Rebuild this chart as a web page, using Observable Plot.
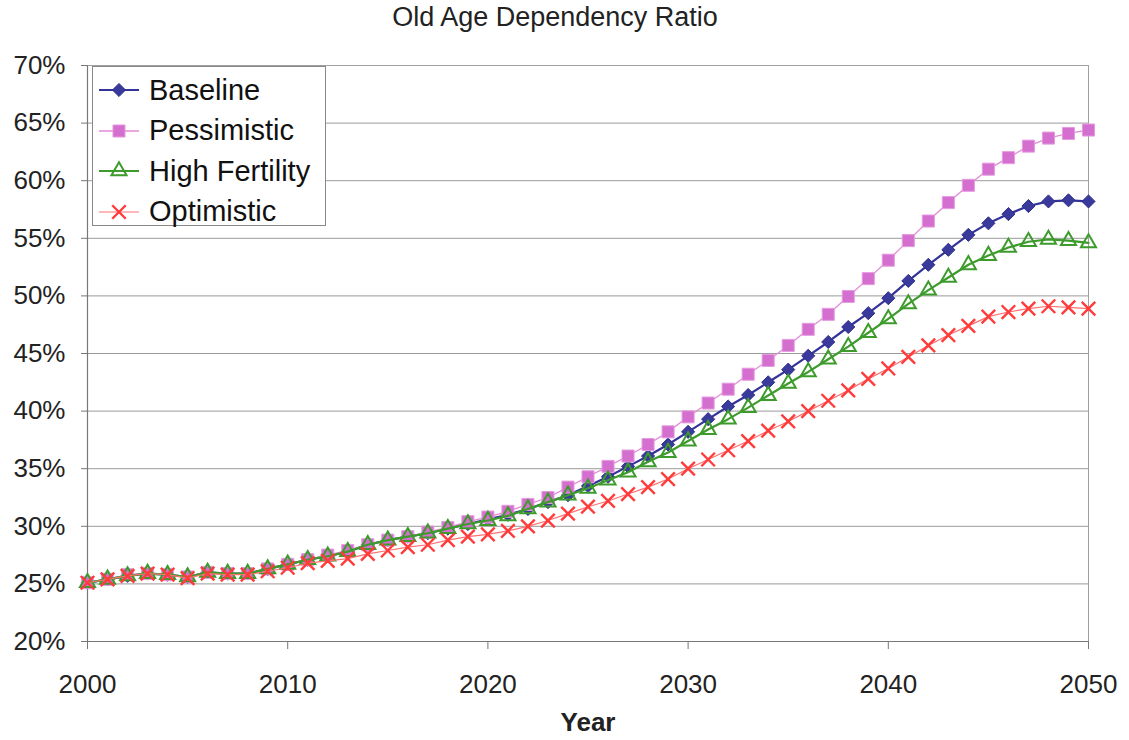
<!DOCTYPE html>
<html>
<head>
<meta charset="utf-8">
<script src="https://cdn.jsdelivr.net/npm/d3@7"></script>
<script src="https://cdn.jsdelivr.net/npm/@observablehq/plot@0.6"></script>
<style>
  html, body { margin: 0; padding: 0; background: #fff; }
  body { width: 1129px; height: 740px; position: relative; overflow: hidden; font-family: Arial, "Liberation Sans", sans-serif; }
  #title { position: absolute; top: 2px; left: 0; width: 1110px; text-align: center; font-size: 27px; color: #222; z-index: 2; }
  #chart { position: absolute; top: 0; left: 0; z-index: 1; }
  #legend { position: absolute; left: 92px; top: 66px; width: 234px; height: 160px; border: 1.5px solid #888; background: #fff; box-sizing: border-box; z-index: 2; }
  .row { position: absolute; left: 0; height: 40px; display: flex; align-items: center; }
  .row span { font-size: 29px; color: #111; margin-left: 6px; }
</style>
</head>
<body>
<div id="title">Old Age Dependency Ratio</div>
<div id="chart"></div>
<div id="legend"></div>
<script>
const years = [2000,2001,2002,2003,2004,2005,2006,2007,2008,2009,2010,2011,2012,2013,2014,2015,2016,2017,2018,2019,2020,2021,2022,2023,2024,2025,2026,2027,2028,2029,2030,2031,2032,2033,2034,2035,2036,2037,2038,2039,2040,2041,2042,2043,2044,2045,2046,2047,2048,2049,2050];

const baseline = [25.1,25.4,25.7,25.9,25.8,25.6,26.0,25.9,25.9,26.3,26.7,27.1,27.4,27.8,28.4,28.8,29.1,29.4,29.8,30.2,30.6,31.0,31.5,32.1,32.7,33.5,34.3,35.2,36.1,37.1,38.2,39.3,40.4,41.4,42.5,43.6,44.8,46.0,47.3,48.5,49.8,51.3,52.7,54.0,55.3,56.3,57.1,57.8,58.2,58.3,58.2];

const pessimistic = [25.1,25.4,25.8,25.9,25.8,25.6,26.0,25.9,25.9,26.3,26.7,27.1,27.5,27.9,28.4,28.8,29.1,29.5,29.9,30.4,30.8,31.3,31.9,32.5,33.4,34.3,35.2,36.1,37.1,38.2,39.5,40.7,41.9,43.2,44.4,45.7,47.1,48.4,49.95,51.5,53.1,54.8,56.5,58.1,59.6,61.0,62.0,63.0,63.7,64.1,64.4];

const highFertility = [25.1,25.4,25.7,25.9,25.8,25.6,26.0,25.9,25.9,26.3,26.7,27.1,27.4,27.8,28.4,28.8,29.1,29.4,29.8,30.2,30.5,30.9,31.5,32.1,32.7,33.3,34.0,34.7,35.6,36.4,37.4,38.4,39.3,40.3,41.35,42.4,43.4,44.5,45.6,46.8,48.0,49.3,50.5,51.6,52.7,53.5,54.2,54.7,54.9,54.8,54.6];

const optimistic = [25.1,25.4,25.7,25.9,25.8,25.5,25.9,25.8,25.8,26.1,26.4,26.8,27.0,27.2,27.6,27.9,28.2,28.4,28.8,29.1,29.3,29.6,30.0,30.5,31.1,31.7,32.2,32.8,33.4,34.1,35.0,35.8,36.6,37.4,38.3,39.1,40.0,40.9,41.8,42.8,43.7,44.7,45.7,46.6,47.4,48.2,48.6,48.9,49.1,49.0,48.9];

const seriesNames = ["Baseline", "Pessimistic", "High Fertility", "Optimistic"];
const yTicks = [20,25,30,35,40,45,50,55,60,65,70];
const xTicks = [2000,2010,2020,2030,2040,2050];

const seriesValues = [baseline, pessimistic, highFertility, optimistic];
const styles = {
  "Baseline":       {line: "#333399", lw: 2.2, symbol: "diamond2", fill: "#3a3a9c", stroke: "#2e2e8a", sw: 1, r: 5.9},
  "Pessimistic":    {line: "#e48ad6", lw: 1.3, symbol: "square", fill: "#d56fcf", stroke: "#e59be0", sw: 1, r: 6.8},
  "High Fertility": {line: "#3d9b2c", lw: 2.2, symbol: "triangle", fill: "none", stroke: "#3d9b2c", sw: 2, r: 5.6},
  "Optimistic":     {line: "#ff7070", lw: 1.2, symbol: "times", fill: "none", stroke: "#ff3b3b", sw: 2.4, r: 6.2}
};

const data = [];
seriesNames.forEach((name, i) => {
  years.forEach((yr, j) => data.push({series: name, year: yr, value: seriesValues[i][j]}));
});

const marks = [
  Plot.ruleY(yTicks, {stroke: "#9a9a9a", strokeWidth: 1}),
  Plot.frame({stroke: "#a0a0a0", strokeWidth: 1}),
  Plot.ruleX([2000], {stroke: "#777", strokeWidth: 1.2}),
  Plot.ruleY([20], {stroke: "#777", strokeWidth: 1.2}),
  Plot.axisY({ticks: yTicks, tickFormat: d => d + "%", tickSize: 6, tickPadding: 16, fontSize: 26, stroke: "#777", fill: "#222", label: null}),
  Plot.axisX({ticks: xTicks, tickFormat: d => String(d), tickSize: 8, tickPadding: 25, fontSize: 26, stroke: "#777", fill: "#222", label: null}),
  Plot.text(["Year"], {frameAnchor: "bottom", dy: 89, fontSize: 26, fontWeight: "bold", fill: "#222"})
];

seriesNames.forEach(name => {
  const s = styles[name];
  const d = data.filter(e => e.series === name);
  marks.push(Plot.line(d, {x: "year", y: "value", stroke: s.line, strokeWidth: s.lw}));
  marks.push(Plot.dot(d, {x: "year", y: "value", symbol: () => s.symbol, fill: s.fill, stroke: s.stroke, strokeWidth: s.sw, r: s.r}));
});

const chart = Plot.plot({
  width: 1129,
  height: 740,
  marginLeft: 87,
  marginRight: 41,
  marginTop: 65,
  marginBottom: 99,
  style: {fontFamily: "Arial, 'Liberation Sans', sans-serif", background: "transparent", overflow: "visible"},
  x: {domain: [2000, 2050], label: null},
  y: {domain: [20, 70], label: null},
  symbol: {type: "identity"},
  marks
});
document.getElementById("chart").appendChild(chart);

// Legend (HTML overlay with small SVG samples drawn through d3 symbols)
const legend = document.getElementById("legend");
const symMap = {diamond2: d3.symbolDiamond2, square: d3.symbolSquare, triangle: d3.symbolTriangle, times: d3.symbolTimes};
seriesNames.forEach((name, i) => {
  const s = styles[name];
  const row = document.createElement("div");
  row.className = "row";
  row.style.top = (3 + i * 40.5) + "px";
  const svg = d3.create("svg").attr("width", 50).attr("height", 40);
  svg.append("line").attr("x1", 6).attr("x2", 46).attr("y1", 20).attr("y2", 20)
    .attr("stroke", s.line).attr("stroke-width", s.lw);
  svg.append("path").attr("transform", "translate(26,20)")
    .attr("d", d3.symbol(symMap[s.symbol], Math.PI * s.r * s.r)())
    .attr("fill", s.fill).attr("stroke", s.stroke).attr("stroke-width", s.sw);
  row.appendChild(svg.node());
  const label = document.createElement("span");
  label.textContent = name;
  row.appendChild(label);
  legend.appendChild(row);
});
</script>
</body>
</html>
